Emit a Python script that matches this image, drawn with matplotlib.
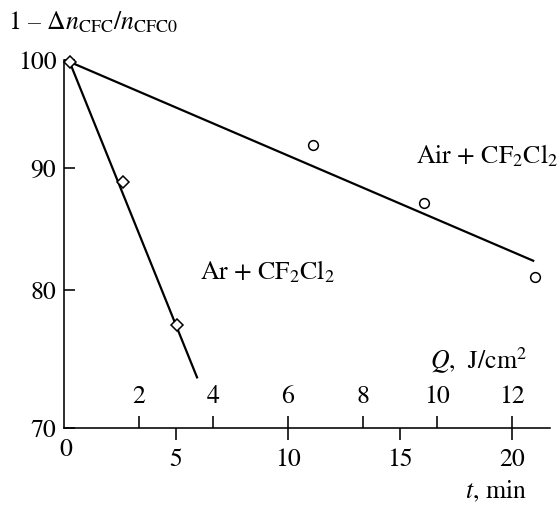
import matplotlib
matplotlib.use("Agg")
import matplotlib.pyplot as plt
from matplotlib.ticker import FixedLocator, FixedFormatter, NullLocator
import matplotlib.transforms as mtransforms

plt.rcParams["font.family"] = ["STIXGeneral", "Liberation Serif", "DejaVu Serif"]
plt.rcParams["mathtext.fontset"] = "stix"
plt.rcParams["font.size"] = 18.5

# Ar + CF2Cl2: measured points and fitted line
ar_t = [0.25, 2.62, 5.03]
ar_val = [99.8, 88.8, 77.3]
ar_fit_t = [0.25, 5.94]
ar_fit_val = [99.8, 73.5]

# Air + CF2Cl2: measured points and fitted line
air_t = [11.13, 16.08, 21.03]
air_val = [92.1, 87.0, 81.0]
air_fit_t = [0.25, 20.95]
air_fit_val = [99.8, 82.3]

t_ticks = [5, 10, 15, 20]
q_ticks = [2, 4, 6, 8, 10, 12]
y_ticks = [70, 80, 90, 100]
y_labels = ["70", "80", "90", "100"]
Q_PER_MIN = 0.6  # J/cm^2 delivered per minute

W, H = 558, 511
fig = plt.figure(figsize=(W / 100, H / 100), dpi=100)
ax = fig.add_axes([64 / W, 1 - 427.7 / H, 486 / W, 367.9 / H])
ax.set_yscale("log")
ax.set_xlim(0, 21.7)
ax.set_ylim(70, 100)

lw = 1.6
ax.plot(air_fit_t, air_fit_val, color="black", lw=lw, zorder=2, clip_on=False)
ax.plot(ar_fit_t, ar_fit_val, color="black", lw=lw, zorder=2, clip_on=False)
ax.plot(air_t, air_val, "o", ms=7, mfc="white", mec="black", mew=1.1,
        zorder=3, clip_on=False)
ax.plot(ar_t, ar_val, "D", ms=6.2, mfc="white", mec="black", mew=1.1,
        zorder=3, clip_on=False)

# spines
for s in ("top", "right"):
    ax.spines[s].set_visible(False)
for s in ("left", "bottom"):
    ax.spines[s].set_linewidth(1.15)

# y axis (log scale)
ax.yaxis.set_major_locator(FixedLocator(y_ticks))
ax.yaxis.set_major_formatter(FixedFormatter(y_labels))
ax.yaxis.set_minor_locator(NullLocator())
ax.tick_params(axis="y", direction="in", length=8, width=1.15, pad=5.5)

# time axis
ax.set_xticks(t_ticks)
ax.set_xticklabels([str(v) for v in t_ticks])
ax.tick_params(axis="x", direction="out", length=8.4, width=1.15, pad=6.5)
blend = mtransforms.blended_transform_factory(ax.transData, ax.transAxes)
ax.text(0.1, -0.061, "0", transform=blend, ha="center", va="center")

# fluence axis, sharing the same baseline, ticks and labels pointing up
sec = ax.secondary_xaxis(0.0, functions=(lambda t: t * Q_PER_MIN,
                                         lambda q: q / Q_PER_MIN))
sec.set_alignment("top")
sec.set_xticks(q_ticks)
sec.set_xticklabels([str(v) for v in q_ticks])
sec.tick_params(direction="out", length=8.4, width=1.15, pad=5)
for s in sec.spines.values():
    s.set_visible(False)

# labels
ax.text(0.9527, 0.1587, r"$Q$,  J/cm$^2$", transform=ax.transAxes,
        ha="right", va="baseline")
fig.text(527 / W, 1 - 498 / H, r"$t$, min", ha="right", va="baseline")
fig.text(8 / W, 1 - 29.5 / H, r"1 – $\Delta n_{\rm CFC}/n_{\rm CFC0}$",
         ha="left", va="baseline")

ax.text(0.724, 0.7187, r"Air + CF$_2$Cl$_2$", transform=ax.transAxes,
        ha="left", va="baseline")
ax.text(0.280, 0.403, r"Ar + CF$_2$Cl$_2$", transform=ax.transAxes,
        ha="left", va="baseline")

fig.savefig("out.png", dpi=100)
